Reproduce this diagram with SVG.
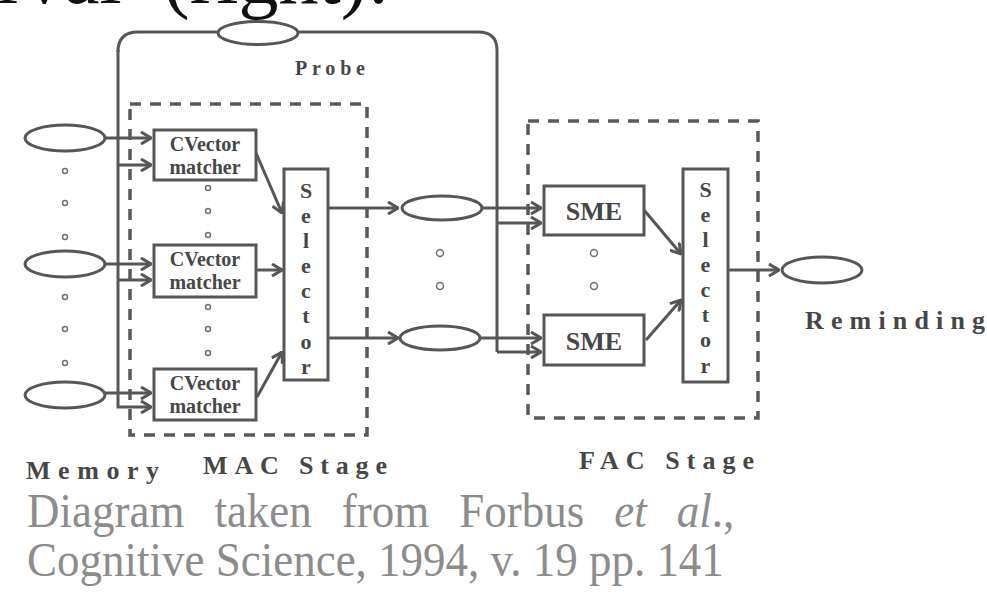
<svg xmlns="http://www.w3.org/2000/svg" width="987" height="592" viewBox="0 0 987 592">
<style>
.ln{stroke:#565656;stroke-width:3;fill:none}
.ar{stroke:#565656;stroke-width:3;fill:none;marker-end:url(#ah)}
.box{stroke:#565656;stroke-width:3;fill:#fff}
.ell{stroke:#565656;stroke-width:3;fill:#fff}
.dash{stroke:#595959;stroke-width:3.5;fill:none;stroke-dasharray:11 9}
.dot{stroke:#707070;stroke-width:1.5;fill:none}
.lbl{font-family:"Liberation Serif",serif;font-weight:bold;fill:#474747}
.sel{font-family:"Liberation Serif",serif;font-weight:bold;fill:#474747;font-size:22px;text-anchor:middle}
.cap{font-family:"Liberation Serif",serif;fill:#8c8c8c;font-size:48px}
</style>
<defs>
<marker id="ah" viewBox="0 0 12 14" refX="11" refY="7" markerWidth="12" markerHeight="14" markerUnits="userSpaceOnUse" orient="auto">
<path d="M1,1 L11,7 L1,13" stroke="#565656" stroke-width="3" fill="none"/>
</marker>
</defs>
<rect width="987" height="592" fill="#fff"/>
<g id="title"><text font-family="Liberation Serif, serif" font-size="80" fill="#111" y="3"><tspan x="-4">i</tspan><tspan x="24">val</tspan><tspan x="163">(right):</tspan></text></g>
<g id="stages">
<rect id="mac-stage" class="dash" x="130" y="104" width="237" height="331"/>
<rect id="fac-stage" class="dash" x="528" y="121" width="230" height="297"/>
</g>
<g id="connectors">
<path class="ar" d="M118,50 L118,407 L151,407"/>
<path class="ln" d="M118,52 Q118,32 138,32 L478,32 Q497,32 497,50 L497,352"/>
<path class="ar" d="M497,352 L541,352"/>
<path class="ar" d="M497,223 L541,223"/>
<path class="ar" d="M118,165 L151,165"/>
<path class="ar" d="M118,280 L151,280"/>
<path class="ar" d="M105,138 L151,138"/>
<path class="ar" d="M105,264 L151,264"/>
<path class="ar" d="M105,393 L151,393"/>
<path class="ar" d="M256,153 L282,213"/>
<path class="ar" d="M256,270 L282,270"/>
<path class="ar" d="M257,397 L282,352"/>
<path class="ar" d="M328,208 L398,208"/>
<path class="ar" d="M328,338 L398,338"/>
<path class="ar" d="M482,208 L541,208"/>
<path class="ar" d="M480,338 L541,338"/>
<path class="ar" d="M644,210 L681,254"/>
<path class="ar" d="M646,340 L681,300"/>
<path class="ar" d="M728,270 L779,270"/>
</g>
<g id="probe"><ellipse class="ell" cx="258" cy="33" rx="40" ry="11.5"/>
<text class="lbl" x="295" y="75" font-size="20" textLength="70" lengthAdjust="spacing">Probe</text></g>
<g id="memory">
<ellipse class="ell" cx="65" cy="138" rx="40" ry="13"/>
<ellipse class="ell" cx="65" cy="264" rx="40" ry="13"/>
<ellipse class="ell" cx="65" cy="395" rx="40" ry="13"/>
<circle class="dot" cx="65" cy="171" r="2.5"/><circle class="dot" cx="65" cy="203" r="2.5"/><circle class="dot" cx="65" cy="237" r="2.5"/>
<circle class="dot" cx="65" cy="297" r="2.5"/><circle class="dot" cx="65" cy="329" r="2.5"/><circle class="dot" cx="65" cy="363" r="2.5"/>
<text class="lbl" x="26" y="479" font-size="26" textLength="133" lengthAdjust="spacing">Memory</text>
</g>
<g id="matcher1"><rect class="box" x="154" y="130" width="102" height="50"/>
<text class="lbl" x="205" y="151" font-size="20" text-anchor="middle">CVector</text>
<text class="lbl" x="205" y="174" font-size="20" text-anchor="middle">matcher</text></g>
<g id="matcher2"><rect class="box" x="154" y="245" width="102" height="52"/>
<text class="lbl" x="205" y="266" font-size="20" text-anchor="middle">CVector</text>
<text class="lbl" x="205" y="289" font-size="20" text-anchor="middle">matcher</text></g>
<g id="matcher3"><rect class="box" x="154" y="369" width="102" height="51"/>
<text class="lbl" x="205" y="390" font-size="20" text-anchor="middle">CVector</text>
<text class="lbl" x="205" y="413" font-size="20" text-anchor="middle">matcher</text></g>
<g id="matcher-dots">
<circle class="dot" cx="208" cy="188" r="2.5"/><circle class="dot" cx="208" cy="211" r="2.5"/><circle class="dot" cx="208" cy="235" r="2.5"/>
<circle class="dot" cx="208" cy="307" r="2.5"/><circle class="dot" cx="208" cy="329" r="2.5"/><circle class="dot" cx="208" cy="353" r="2.5"/>
</g>
<g id="mac-selector"><rect class="box" x="284" y="169" width="44" height="211"/>
<text class="sel"><tspan x="306" y="198">S</tspan><tspan x="306" y="223">e</tspan><tspan x="306" y="248">l</tspan><tspan x="306" y="273">e</tspan><tspan x="306" y="298">c</tspan><tspan x="306" y="323">t</tspan><tspan x="306" y="349">o</tspan><tspan x="306" y="374">r</tspan></text></g>
<g id="mac-label"><text class="lbl" x="203" y="474" font-size="26" textLength="184" lengthAdjust="spacing">MAC Stage</text></g>
<g id="candidates">
<ellipse class="ell" cx="442" cy="208" rx="40" ry="12"/>
<ellipse class="ell" cx="440" cy="338" rx="40" ry="12"/>
<circle class="dot" cx="440" cy="253" r="3.5"/><circle class="dot" cx="440" cy="286" r="3.5"/>
</g>
<g id="sme1"><rect class="box" x="544" y="186" width="100" height="49"/>
<text class="lbl" x="594" y="220" font-size="26" text-anchor="middle">SME</text></g>
<g id="sme2"><rect class="box" x="544" y="315" width="100" height="50"/>
<text class="lbl" x="594" y="350" font-size="26" text-anchor="middle">SME</text></g>
<g id="sme-dots"><circle class="dot" cx="594" cy="253" r="3.5"/><circle class="dot" cx="594" cy="286" r="3.5"/></g>
<g id="fac-selector"><rect class="box" x="683" y="169" width="45" height="213"/>
<text class="sel"><tspan x="705.5" y="197">S</tspan><tspan x="705.5" y="222">e</tspan><tspan x="705.5" y="247">l</tspan><tspan x="705.5" y="272">e</tspan><tspan x="705.5" y="297">c</tspan><tspan x="705.5" y="322">t</tspan><tspan x="705.5" y="347">o</tspan><tspan x="705.5" y="373">r</tspan></text></g>
<g id="fac-label"><text class="lbl" x="579" y="469" font-size="26" textLength="175" lengthAdjust="spacing">FAC Stage</text></g>
<g id="reminding"><ellipse class="ell" cx="822" cy="270" rx="40" ry="13"/>
<text class="lbl" x="805" y="329" font-size="26" textLength="180" lengthAdjust="spacing">Reminding</text></g>
<g id="caption" transform="translate(27,0) scale(0.9375,1)">
<text class="cap" x="0" y="527" word-spacing="20">Diagram taken from Forbus <tspan font-style="italic">et al</tspan>.,</text>
<text class="cap" x="0" y="576">Cognitive Science, 1994, v. 19 pp. 141</text>
</g>
</svg>
